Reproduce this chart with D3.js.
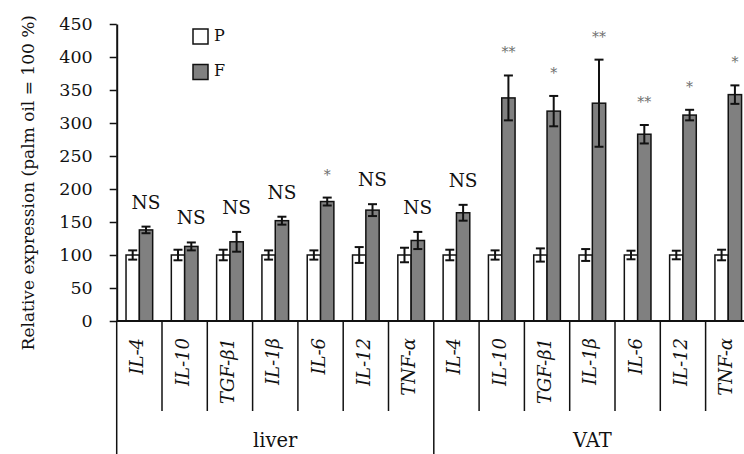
<!DOCTYPE html>
<html>
<head>
<meta charset="utf-8">
<script src="https://cdn.jsdelivr.net/npm/d3@7"></script>
<style>
  body { margin: 0; background: #fff; }
  svg { display: block; }
  text { font-family: 'DejaVu Serif', serif; fill: #111; }
</style>
</head>
<body>
<svg width="744" height="454"></svg>
<script>
// Data (P = white, F = grey)
const groups = ['liver', 'VAT'];
const genes = ['IL-4', 'IL-10', 'TGF-β1', 'IL-1β', 'IL-6', 'IL-12', 'TNF-α'];
const seriesNames = ['P', 'F'];

// liver first 7, VAT next 7
const pMean = [100, 100, 100, 100, 100, 100, 100, 100, 100, 100, 100, 100, 100, 100];
const pErr  = [7, 8, 8, 7, 7, 12, 11, 8, 7, 10, 9, 6.5, 6.5, 8];
const fMean = [138, 113, 120, 152, 181, 168, 122, 164, 338, 318, 330, 283, 312, 343];
const fErr  = [5, 6, 15, 6, 6, 9, 13, 12, 34, 23, 66, 14, 8, 14];
const sigLabels = ['NS', 'NS', 'NS', 'NS', '*', 'NS', 'NS', 'NS', '**', '*', '**', '**', '*', '*'];
const yTicks = [0, 50, 100, 150, 200, 250, 300, 350, 400, 450];

const svg = d3.select('svg');

// build rows (one per tissue x gene)
const rows = [];
groups.forEach((grp, gi) => {
    genes.forEach((gene, j) => {
        const i = gi * genes.length + j;
        rows.push({
            key: grp + '|' + gene, group: grp, gene: gene,
            P: pMean[i], PErr: pErr[i], F: fMean[i], FErr: fErr[i], sig: sigLabels[i]
        });
    });
});

// scales
const x = d3.scaleBand()
    .domain(rows.map(d => d.key))
    .range([116.7, 750.9]);
const xSub = d3.scaleBand()
    .domain(seriesNames)
    .range([0, x.bandwidth()])
    .paddingOuter(0.7);
const y = d3.scaleLinear()
    .domain([0, 450])
    .range([321, 24]);

const fills = { P: '#ffffff', F: '#808080' };

// bars
const cat = svg.append('g').selectAll('g')
    .data(rows)
    .enter()
    .append('g')
    .attr('transform', d => `translate(${x(d.key)},0)`);

cat.selectAll('rect')
    .data(d => seriesNames.map(s => ({ s: s, v: d[s], e: d[s + 'Err'] })))
    .enter()
    .append('rect')
    .attr('x', d => xSub(d.s))
    .attr('y', d => y(d.v))
    .attr('width', xSub.bandwidth())
    .attr('height', d => y(0) - y(d.v))
    .attr('fill', d => fills[d.s])
    .attr('stroke', '#111')
    .attr('stroke-width', 1.5);

// error bars
const err = cat.selectAll('g.err')
    .data(d => seriesNames.map(s => ({ s: s, v: d[s], e: d[s + 'Err'] })))
    .enter()
    .append('g')
    .attr('class', 'err')
    .attr('stroke', '#111')
    .attr('stroke-width', 2);
const cx = d => xSub(d.s) + xSub.bandwidth() / 2;
err.append('line')
    .attr('x1', cx).attr('x2', cx)
    .attr('y1', d => y(d.v - d.e)).attr('y2', d => y(d.v + d.e));
err.append('line')
    .attr('x1', d => cx(d) - 4.5).attr('x2', d => cx(d) + 4.5)
    .attr('y1', d => y(d.v + d.e)).attr('y2', d => y(d.v + d.e));
err.append('line')
    .attr('x1', d => cx(d) - 4.5).attr('x2', d => cx(d) + 4.5)
    .attr('y1', d => y(d.v - d.e)).attr('y2', d => y(d.v - d.e));

// significance labels above the F bar
cat.append('text')
    .attr('x', xSub('F') + xSub.bandwidth() / 2)
    .attr('y', d => y(d.F + d.FErr) - 18)
    .attr('text-anchor', 'middle')
    .attr('font-size', d => d.sig === 'NS' ? 18.5 : 14)
    .style('fill', d => d.sig === 'NS' ? '#111' : '#6e6e6e')
    .text(d => d.sig);

// y axis
const yAxisGroup = svg.append('g')
    .attr('transform', 'translate(116.7,0)')
    .call(d3.axisLeft(y).tickValues(yTicks).tickSize(7).tickSizeOuter(0).tickPadding(17))
    .attr('font-family', null)
    .attr('font-size', 17.5);
yAxisGroup.select('.domain').attr('stroke', '#111').attr('stroke-width', 2);
yAxisGroup.selectAll('.tick line').attr('stroke', '#111').attr('stroke-width', 1.5);
yAxisGroup.selectAll('.tick text').style('fill', '#111');

// y axis title
svg.append('text')
    .attr('transform', 'translate(34,15) rotate(-90)')
    .attr('text-anchor', 'end')
    .attr('font-size', 17)
    .text('Relative expression (palm oil = 100 %)');

// x axis line and category dividers
const xEnd = x.range()[1];
svg.append('line')
    .attr('x1', 116.7).attr('x2', xEnd)
    .attr('y1', y(0)).attr('y2', y(0))
    .attr('stroke', '#111').attr('stroke-width', 2);

const bounds = rows.map((d, i) => ({ x: x(d.key), major: i % genes.length === 0 }));
bounds.push({ x: xEnd, major: true });
svg.append('g').selectAll('line')
    .data(bounds)
    .enter()
    .append('line')
    .attr('x1', d => d.x).attr('x2', d => d.x)
    .attr('y1', y(0))
    .attr('y2', d => d.major ? 454 : 411)
    .attr('stroke', '#111')
    .attr('stroke-width', 1.5);

// gene labels (rotated, italic)
svg.append('g').selectAll('text')
    .data(rows)
    .enter()
    .append('text')
    .attr('transform', d => `translate(${x(d.key) + x.bandwidth() / 2 + 4},338) rotate(-90)`)
    .attr('text-anchor', 'end')
    .attr('font-size', 18)
    .attr('font-style', 'italic')
    .text(d => d.gene);

// tissue labels
groups.forEach((grp, gi) => {
    const first = rows[gi * genes.length].key;
    const last = rows[gi * genes.length + genes.length - 1].key;
    const mid = (x(first) + x(last) + x.bandwidth()) / 2;
    svg.append('text')
        .attr('x', mid)
        .attr('y', 447)
        .attr('text-anchor', 'middle')
        .attr('font-size', 19.5)
        .text(grp);
});

// legend
const legend = svg.append('g')
    .selectAll('g')
    .data(seriesNames)
    .enter()
    .append('g')
    .attr('transform', (d, i) => `translate(193,${29 + i * 35.5})`);
legend.append('rect')
    .attr('width', 15).attr('height', 15)
    .attr('fill', d => fills[d])
    .attr('stroke', '#111').attr('stroke-width', 1.5);
legend.append('text')
    .attr('x', 21).attr('y', 11.5)
    .attr('font-size', 16)
    .text(d => d);
</script>
</body>
</html>
